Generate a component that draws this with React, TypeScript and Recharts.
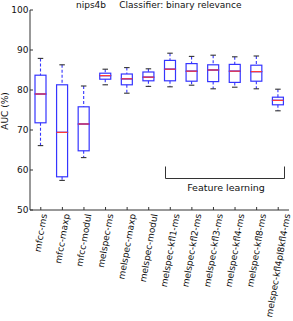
import React from "react";
import { ComposedChart, Bar, XAxis, YAxis } from "recharts";

const categories = [
  "mfcc-ms",
  "mfcc-maxp",
  "mfcc-modul",
  "melspec-ms",
  "melspec-maxp",
  "melspec-modul",
  "melspec-kfl1-ms",
  "melspec-kfl2-ms",
  "melspec-kfl3-ms",
  "melspec-kfl4-ms",
  "melspec-kfl8-ms",
  "melspec-kfl4pl8kfl4-ms",
];
const whiskerHigh = [87.9, 86.3, 81.0, 85.2, 85.6, 85.3, 89.2, 88.4, 88.7, 88.3, 88.5, 80.2];
const q3 = [83.7, 81.3, 75.8, 84.2, 84.0, 84.5, 87.4, 86.6, 86.3, 86.4, 86.2, 78.2];
const median = [79.0, 69.4, 71.5, 83.6, 82.8, 83.2, 85.2, 84.7, 85.0, 84.7, 84.6, 77.4];
const q1 = [71.8, 58.3, 64.8, 82.7, 81.3, 82.3, 82.3, 82.2, 82.1, 81.9, 82.2, 76.3];
const whiskerLow = [66.1, 57.4, 63.1, 81.3, 79.2, 80.9, 80.8, 81.2, 80.3, 80.7, 80.3, 74.8];
const yTicks = [50, 60, 70, 80, 90, 100];

const data = categories.map((name, i) => ({
  name,
  base: whiskerLow[i],
  lowW: q1[i] - whiskerLow[i],
  lowBox: median[i] - q1[i],
  highBox: q3[i] - median[i],
  highW: whiskerHigh[i] - q3[i],
}));

const BLUE = "#3535ff";
const RED = "#ff3a3a";
const CAP = "#333333";
const FRAME = "#333333";
const FONT = "'DejaVu Sans', sans-serif";

const Empty = () => <g />;

const LowWhisker = (p: any) => {
  const cx = p.x + p.width / 2;
  const yb = p.y + p.height;
  const cw = p.width / 4;
  return (
    <g>
      <line x1={cx} x2={cx} y1={p.y} y2={yb} stroke={BLUE} strokeWidth={1.1} strokeDasharray="3 2" />
      <line x1={cx - cw} x2={cx + cw} y1={yb} y2={yb} stroke={CAP} strokeWidth={1.1} />
    </g>
  );
};

const HighWhisker = (p: any) => {
  const cx = p.x + p.width / 2;
  const cw = p.width / 4;
  return (
    <g>
      <line x1={cx} x2={cx} y1={p.y} y2={p.y + p.height} stroke={BLUE} strokeWidth={1.1} strokeDasharray="3 2" />
      <line x1={cx - cw} x2={cx + cw} y1={p.y} y2={p.y} stroke={CAP} strokeWidth={1.1} />
    </g>
  );
};

const LowBox = (p: any) => (
  <rect x={p.x} y={p.y} width={p.width} height={p.height} fill="none" stroke={BLUE} strokeWidth={1.2} />
);

const HighBox = (p: any) => (
  <g>
    <rect x={p.x} y={p.y} width={p.width} height={p.height} fill="none" stroke={BLUE} strokeWidth={1.2} />
    <line x1={p.x} x2={p.x + p.width} y1={p.y + p.height} y2={p.y + p.height} stroke={RED} strokeWidth={1.2} />
  </g>
);

let ctx: CanvasRenderingContext2D | null = null;
function measure(text: string): number {
  if (!ctx) {
    const c = document.createElement("canvas");
    ctx = c.getContext("2d");
  }
  if (!ctx) return text.length * 5.4;
  ctx.font = "9px 'DejaVu Sans'";
  return ctx.measureText(text).width;
}

const BottomTick = (p: any) => {
  const { x, y, payload } = p;
  const label = String(payload.value);
  const L = measure(label);
  const cy = y + 3 + (L * 0.985 + 10.5 * 0.174) / 2;
  return (
    <g>
      <line x1={x} x2={x} y1={y} y2={y - 3} stroke={FRAME} strokeWidth={1} />
      <text
        x={x}
        y={cy}
        textAnchor="middle"
        dominantBaseline="central"
        transform={`rotate(-80 ${x} ${cy})`}
        fontSize={9}
        fontFamily={FONT}
        fill="#111"
      >
        {label}
      </text>
    </g>
  );
};

const TopTick = (p: any) => (
  <line x1={p.x} x2={p.x} y1={p.y} y2={p.y + 3} stroke={FRAME} strokeWidth={1} />
);

const LeftTick = (p: any) => (
  <g>
    <line x1={p.x} x2={p.x + 3} y1={p.y} y2={p.y} stroke={FRAME} strokeWidth={1} />
    <text x={p.x - 1.5} y={p.y} dy="0.35em" textAnchor="end" fontSize={9} fontFamily={FONT} fill="#111">
      {p.payload.value}
    </text>
  </g>
);

const RightTick = (p: any) => (
  <line x1={p.x - 3} x2={p.x} y1={p.y} y2={p.y} stroke={FRAME} strokeWidth={1} />
);

export default function App() {
  return (
    <div style={{ position: "absolute", left: 0, top: 0, width: 293, height: 321, background: "#fff" }}>
      <ComposedChart
        width={293}
        height={321}
        data={data}
        margin={{ top: 10, right: 4, left: 0, bottom: 0 }}
        barCategoryGap={0}
      >
        <XAxis
          dataKey="name"
          type="category"
          interval={0}
          height={111}
          tickSize={0}
          tickMargin={0}
          tickLine={false}
          axisLine={{ stroke: FRAME, strokeWidth: 1 }}
          tick={(p: any) => <BottomTick {...p} />}
        />
        <XAxis
          xAxisId="top"
          orientation="top"
          dataKey="name"
          type="category"
          interval={0}
          height={0}
          tickSize={0}
          tickMargin={0}
          tickLine={false}
          axisLine={{ stroke: FRAME, strokeWidth: 1 }}
          tick={(p: any) => <TopTick {...p} />}
        />
        <YAxis
          type="number"
          domain={[50, 100]}
          ticks={yTicks}
          allowDataOverflow
          width={30}
          tickSize={0}
          tickMargin={0}
          tickLine={false}
          axisLine={{ stroke: FRAME, strokeWidth: 1 }}
          tick={(p: any) => <LeftTick {...p} />}
        />
        <YAxis
          yAxisId="right"
          orientation="right"
          type="number"
          domain={[50, 100]}
          ticks={yTicks}
          allowDataOverflow
          width={0}
          tickSize={0}
          tickMargin={0}
          tickLine={false}
          axisLine={{ stroke: FRAME, strokeWidth: 1 }}
          tick={(p: any) => <RightTick {...p} />}
        />
        <Bar dataKey="base" stackId="b" barSize={11} shape={Empty} isAnimationActive={false} />
        <Bar dataKey="lowW" stackId="b" barSize={11} shape={LowWhisker} isAnimationActive={false} />
        <Bar dataKey="lowBox" stackId="b" barSize={11} shape={LowBox} isAnimationActive={false} />
        <Bar dataKey="highBox" stackId="b" barSize={11} shape={HighBox} isAnimationActive={false} />
        <Bar dataKey="highW" stackId="b" barSize={11} shape={HighWhisker} isAnimationActive={false} />
      </ComposedChart>
      <svg
        width={293}
        height={321}
        style={{ position: "absolute", left: 0, top: 0, pointerEvents: "none" }}
      >
        <text x={76} y={7.5} fontSize={9} fontFamily={FONT} fill="#111">
          nips4b
        </text>
        <text x={119.3} y={7.5} fontSize={9} fontFamily={FONT} fill="#111">
          Classifier: binary relevance
        </text>
        <text
          x={5}
          y={111}
          transform="rotate(-90 5 111)"
          textAnchor="middle"
          dominantBaseline="central"
          fontSize={9}
          fontFamily={FONT}
          fill="#111"
        >
          AUC (%)
        </text>
        <path d="M165.5 166.5 V178.5 H284.5 V166.5" fill="none" stroke={FRAME} strokeWidth={1} />
        <text x={226} y={190.5} textAnchor="middle" fontSize={9.5} fontFamily={FONT} fill="#111">
          Feature learning
        </text>
      </svg>
    </div>
  );
}
